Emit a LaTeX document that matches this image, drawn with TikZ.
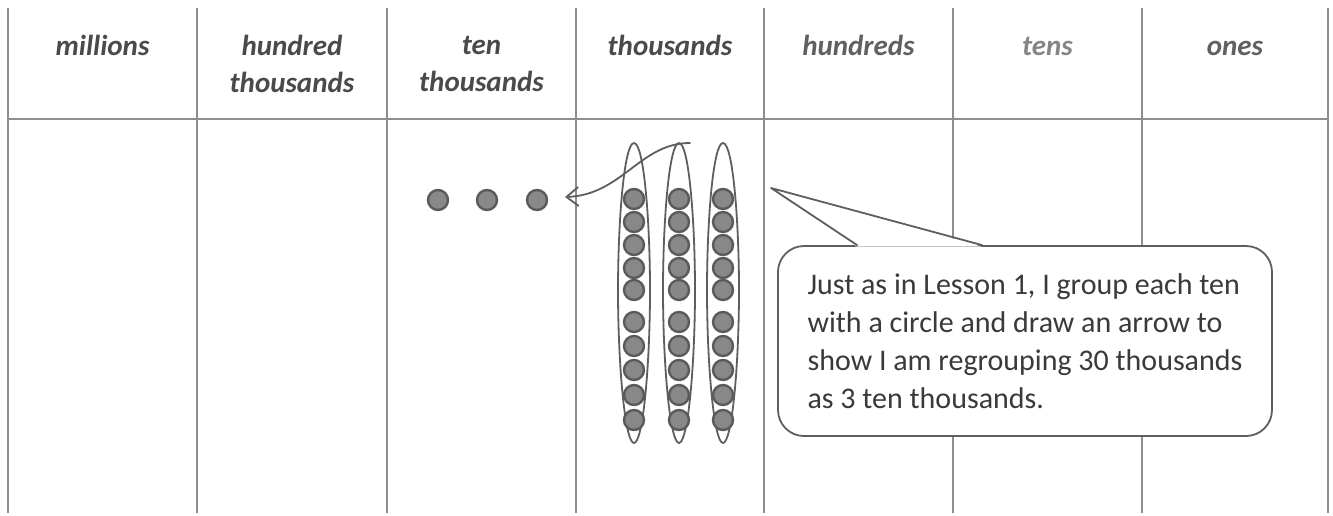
\documentclass[tikz,border=0pt]{standalone}
\usepackage{fontspec}
\setmainfont{Carlito}
\usetikzlibrary{arrows.meta,calc}

\definecolor{rulec}{HTML}{8E8E8E}
\definecolor{inkc}{HTML}{5E5E5E}
\definecolor{beadc}{HTML}{888888}
\definecolor{beadrim}{HTML}{5A5A5A}
\definecolor{headA}{HTML}{4A4A4A}
\definecolor{headB}{HTML}{606060}
\definecolor{headC}{HTML}{858585}
\definecolor{notetext}{HTML}{3A3A3A}

\begin{document}
\begin{tikzpicture}[x=1pt,y=-1pt,
  rule/.style={draw=rulec,line width=2.2pt},
  head/.style={font=\fontsize{29}{37}\selectfont\bfseries\itshape,align=center,inner sep=0pt},
  bead/.style={circle,fill=beadc,draw=beadrim,line width=2.4pt,minimum size=20pt,inner sep=0pt},
  loopline/.style={draw=inkc,line width=1.8pt,line cap=round,line join=round},
  note/.style={draw=inkc,line width=1.8pt,fill=white,rounded corners=26pt,
    minimum width=494pt,minimum height=190pt,align=left,text=notetext,
    font=\fontsize{30}{38}\selectfont}]
\useasboundingbox (0,0) rectangle (1333,515);

% place-value chart: column rules and header rule
\foreach \x in {8,197,387,576,764,953,1142,1328}
  \draw[rule] (\x,8) -- (\x,513);
\draw[rule] (8,119) -- (1328,119);

% column headings
\node[head,text=headA,anchor=base] (hmil) at (102.5,55) {millions};
\node[head,text=headA] (hht)  at (292,64) {hundred\\thousands};
\node[head,text=headA] (htt)  at (481.5,64) {ten\\thousands};
\node[head,text=headA,anchor=base] (hth)  at (670,55) {thousands};
\node[head,text=headB,anchor=base] (hhu)  at (858.5,55) {hundreds};
\node[head,text=headC,anchor=base] (hte)  at (1047.5,55) {tens};
\node[head,text=headB,anchor=base] (hon)  at (1235,55) {ones};

% three groups of ten thousands, each circled
\foreach \cx [count=\i] in {634,679,723} {
  \draw[loopline] (\cx,143)
    .. controls (\cx+10,143) and (\cx+16,222) .. (\cx+16,290)
    .. controls (\cx+16,365) and (\cx+9,443) .. (\cx,443)
    .. controls (\cx-9,443) and (\cx-16,365) .. (\cx-16,290)
    .. controls (\cx-16,222) and (\cx-10,143) .. (\cx,143);
  \foreach \y [count=\j] in {199,222,245,268,290,322,346,370,395,420}
    \node[bead] (b\i-\j) at (\cx,\y) {};
}

% the three new ten thousands
\node[bead] (t1) at (438,200) {};
\node[bead] (t2) at (487,200) {};
\node[bead] (t3) at (537,200) {};

% regrouping arrow
\coordinate (arrowstart) at (690,143);
\coordinate (arrowtip) at (565,197);
\draw[loopline,-{Straight Barb[length=12pt,width=19pt,line width=1.8pt]}]
  (arrowstart) .. controls (640,143) and (622,195) .. (arrowtip);

% speech bubble
\node[note] (note) at (1025,341) {Just as in Lesson 1, I group each ten\\with a circle and draw an arrow to\\show I am regrouping 30 thousands\\as 3 ten thousands.};
\coordinate (tip) at (771,188);
\fill[white] ($(note.north west)+(80,1.6)$) -- (tip) -- ($(note.north west)+(205,1.6)$) -- cycle;
\draw[loopline] ($(note.north west)+(80,0)$) -- (tip) -- ($(note.north west)+(205,0)$);
\end{tikzpicture}
\end{document}
